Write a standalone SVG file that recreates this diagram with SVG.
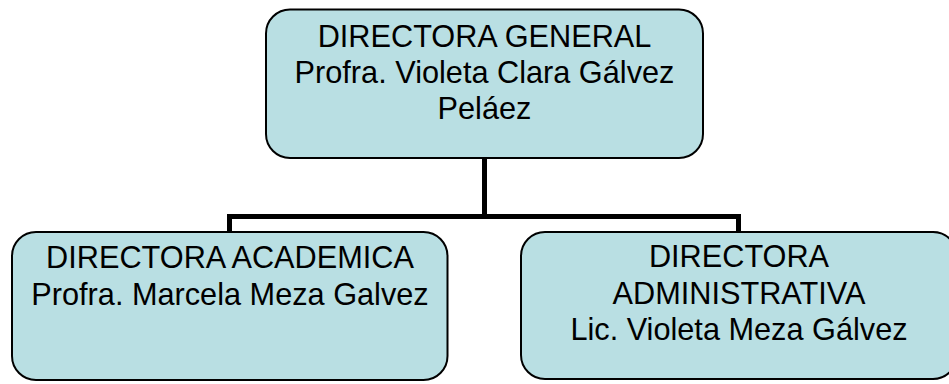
<svg xmlns="http://www.w3.org/2000/svg" width="949" height="384" viewBox="0 0 949 384">
<style>
.box{fill:#B9DFE3;stroke:#000;stroke-width:2}
.lbl{font-family:"Liberation Sans",Arial,sans-serif;font-size:30.7px;fill:#000;text-anchor:middle}
.con{fill:none;stroke:#000;stroke-width:5;stroke-linejoin:miter}
</style>
<rect width="949" height="384" fill="#fff"/>
<g id="connectors">
<path class="con" d="M484.5 158 V216.5"/>
<path class="con" d="M229.5 232 V216.5 H738.5 V232"/>
</g>
<g id="node-general">
<rect class="box" x="266" y="9.5" width="437" height="148.5" rx="24" ry="24"/>
<text class="lbl" x="484.5" y="47">DIRECTORA GENERAL</text>
<text class="lbl" x="484.5" y="83">Profra. Violeta Clara Gálvez</text>
<text class="lbl" x="484.5" y="119">Peláez</text>
</g>
<g id="node-academica">
<rect class="box" x="12" y="232" width="435.5" height="148" rx="24" ry="24"/>
<text class="lbl" x="230" y="268">DIRECTORA ACADEMICA</text>
<text class="lbl" x="230" y="305">Profra. Marcela Meza Galvez</text>
</g>
<g id="node-administrativa">
<rect class="box" x="521" y="232" width="436" height="147" rx="24" ry="24"/>
<text class="lbl" x="739" y="267">DIRECTORA</text>
<text class="lbl" x="739" y="304">ADMINISTRATIVA</text>
<text class="lbl" x="739" y="340">Lic. Violeta Meza Gálvez</text>
</g>
</svg>
